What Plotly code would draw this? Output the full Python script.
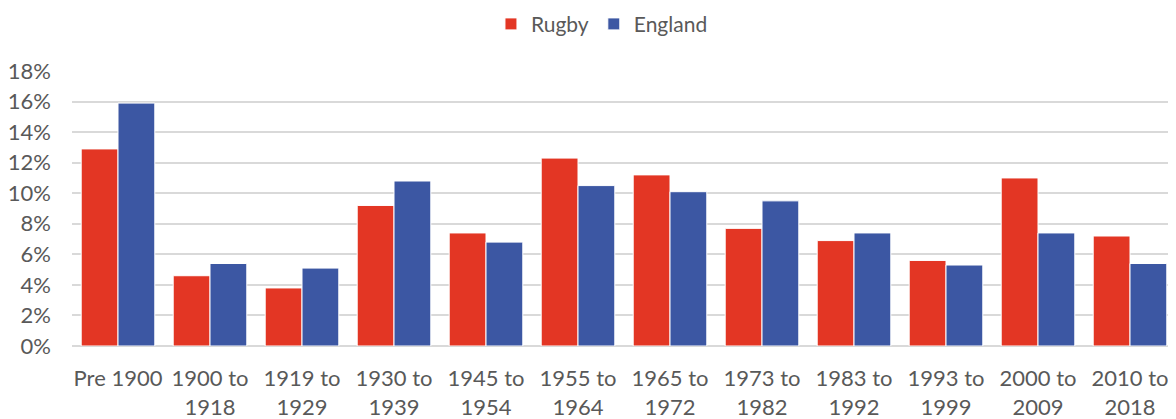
import plotly.graph_objects as go

categories = ["Pre 1900", "1900 to<br>1918", "1919 to<br>1929", "1930 to<br>1939", "1945 to<br>1954",
              "1955 to<br>1964", "1965 to<br>1972", "1973 to<br>1982", "1983 to<br>1992", "1993 to<br>1999",
              "2000 to<br>2009", "2010 to<br>2018"]
rugby = [12.9, 4.6, 3.8, 9.2, 7.4, 12.3, 11.2, 7.7, 6.9, 5.6, 11.0, 7.2]
england = [15.9, 5.4, 5.1, 10.8, 6.8, 10.5, 10.1, 9.5, 7.4, 5.3, 7.4, 5.4]
y_ticks = [0, 2, 4, 6, 8, 10, 12, 14, 16, 18]
y_tick_labels = ["0%", "2%", "4%", "6%", "8%", "10%", "12%", "14%", "16%", "18%"]

FONT = "Lato, sans-serif"
GREY = "#595959"
FS = 22

fig = go.Figure()
fig.add_trace(go.Bar(name="Rugby", x=categories, y=rugby,
                     marker=dict(color="#E33624", line=dict(color="white", width=1))))
fig.add_trace(go.Bar(name="England", x=categories, y=england,
                     marker=dict(color="#3C57A3", line=dict(color="white", width=1))))

fig.update_layout(
    width=1168, height=411,
    margin=dict(l=64, r=0, t=63, b=73, autoexpand=False),
    barmode="group", bargap=0.2, bargroupgap=0,
    paper_bgcolor="white", plot_bgcolor="white",
    font=dict(family=FONT, size=FS, color=GREY),
    legend=dict(orientation="h", x=0.3795, xanchor="left", y=1.17, yanchor="middle",
                font=dict(size=21, color=GREY), itemwidth=30),
    xaxis=dict(showgrid=False, ticks="", tickfont=dict(size=FS, color=GREY), showline=False,
               automargin=False, ticklabelstandoff=17),
    yaxis=dict(range=[0, 18], tickvals=y_ticks, ticktext=y_tick_labels, showgrid=True,
               gridcolor="#D9D9D9", gridwidth=1.5, zeroline=True, zerolinecolor="#D9D9D9",
               zerolinewidth=1.5, tickfont=dict(size=FS, color=GREY), ticks="",
               ticklabelstandoff=20, automargin=False),
)
fig.write_html("out.html")
